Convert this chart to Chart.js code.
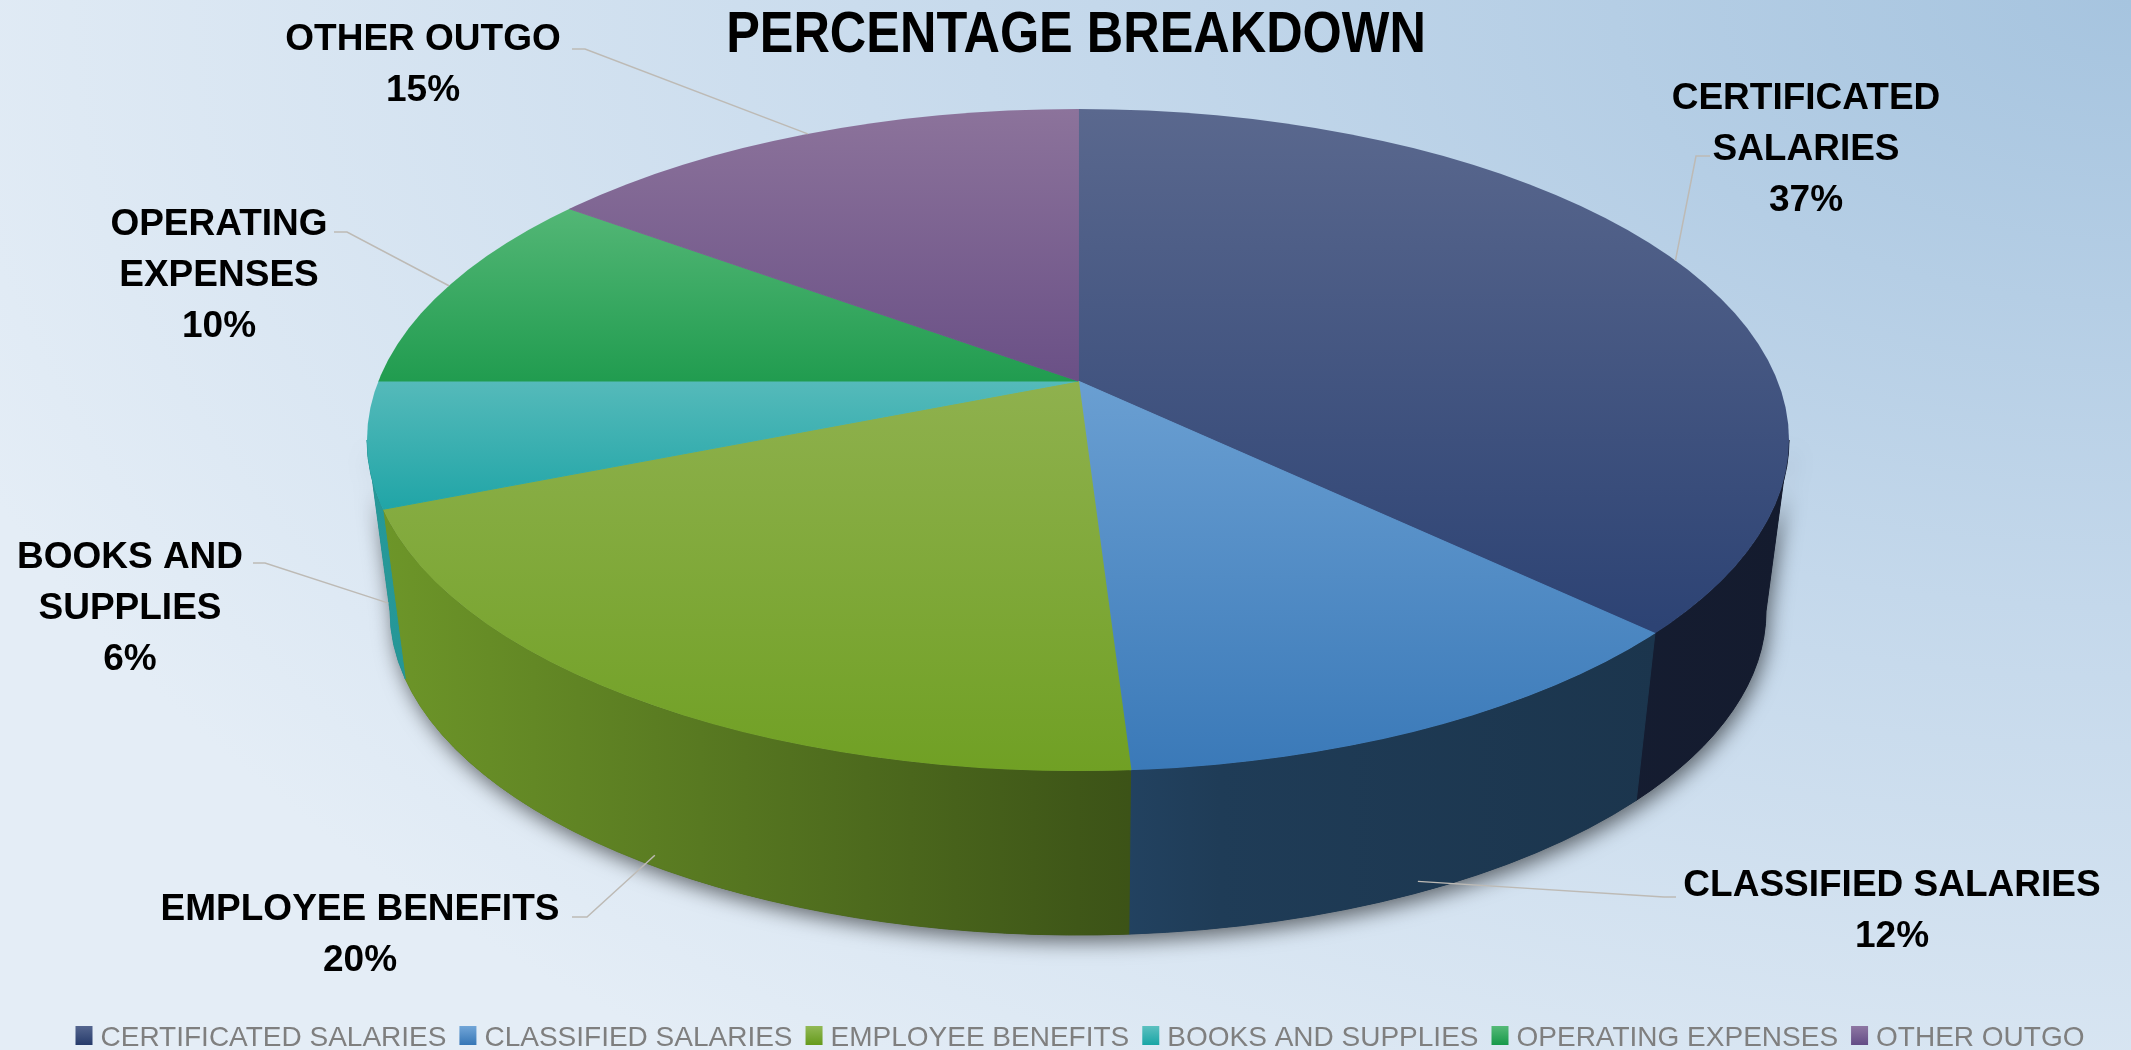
<!DOCTYPE html>
<html>
<head>
<meta charset="utf-8">
<script src="https://cdn.jsdelivr.net/npm/chart.js@4.4.1/dist/chart.umd.min.js"></script>
<style>
html,body{margin:0;padding:0;width:2131px;height:1050px;overflow:hidden;
background:radial-gradient(2300px 1350px at 100% 0%, #a6c4df 0%, #c4d8eb 45%, #e4edf6 100%);}
canvas{display:block}
</style>
</head>
<body>
<canvas id="c" width="2131" height="1050"></canvas>
<script>
// ---------- data ----------
const chartTitle = "PERCENTAGE BREAKDOWN";
const categories = ["CERTIFICATED SALARIES","CLASSIFIED SALARIES","EMPLOYEE BENEFITS","BOOKS AND SUPPLIES","OPERATING EXPENSES","OTHER OUTGO"];
const percentages = [37, 12, 20, 6, 10, 15];
const labelLines = [["CERTIFICATED","SALARIES"],["CLASSIFIED SALARIES"],["EMPLOYEE BENEFITS"],["BOOKS AND","SUPPLIES"],["OPERATING","EXPENSES"],["OTHER OUTGO"]];

// ---------- styles / layout ----------
const sideBase = ["#34487a","#4585c2","#7aa82e","#2aabab","#27a555","#735a8e"];
const topShade = [
  {y0:109, c0:"#5a688e", y1:625, c1:"#2d4374"},
  {y0:381, c0:"#6a9fd2", y1:771, c1:"#3a79b8"},
  {y0:381, c0:"#8fb14e", y1:771, c1:"#70a024"},
  {y0:381, c0:"#55baba", y1:514, c1:"#1ea4a6"},
  {y0:213, c0:"#52b675", y1:387, c1:"#1f9b4e"},
  {y0:109, c0:"#8c739b", y1:381, c1:"#6a5086"}
];
const legendShade = [["#55668f","#263b6b"],["#72a6d8","#3676b6"],["#92b956","#659a1c"],["#5cc0c0","#19a5a5"],["#55ba78","#17994a"],["#8e77a3","#634c86"]];
const APEX = {x:1078, y:381};
const TOP = {x:1078, y:440, rx:711, ry:331};
const BOT = {x:1078, y:611, rx:688, ry:324};
const WEDGE = {rx:1000, ry:466};
const labelLayout = [
  {x:1806, y:109, elbow:[[1710,156],[1696,156]]},
  {x:1892, y:896, elbow:[[1676,897],[1664,897]]},
  {x:360,  y:920, elbow:[[572,917],[587,917]]},
  {x:130,  y:568, elbow:[[253,563],[265,563]]},
  {x:219,  y:235, elbow:[[334,232],[347,232]]},
  {x:423,  y:50,  elbow:[[572,49],[585,49]]}
];
const LINE_H = 51;

function shade(hex, f){
  const n = parseInt(hex.slice(1),16);
  const r = Math.round(((n>>16)&255)*f), g = Math.round(((n>>8)&255)*f), b = Math.round((n&255)*f);
  return `rgb(${r},${g},${b})`;
}

function topFill(c){
  const chart = c.chart, ca = chart.chartArea, i = c.dataIndex;
  if(!ca || i === undefined) return sideBase[0];
  const cy = (ca.top+ca.bottom)/2;
  const r = Math.min(ca.right-ca.left, ca.bottom-ca.top)/2;
  const sy = WEDGE.ry / r;
  const s = topShade[i];
  const g = chart.ctx.createLinearGradient(0, cy+(s.y0-APEX.y)/sy, 0, cy+(s.y1-APEX.y)/sy);
  g.addColorStop(0, s.c0); g.addColorStop(1, s.c1);
  return g;
}

// ray from apex (in wedge-space angle) to the rim of the top ellipse
function rim(alpha){
  const dx = Math.cos(alpha)*WEDGE.rx, dy = Math.sin(alpha)*WEDGE.ry;
  const ox = APEX.x-TOP.x, oy = APEX.y-TOP.y;
  const rx2 = TOP.rx*TOP.rx, ry2 = TOP.ry*TOP.ry;
  const a = dx*dx/rx2 + dy*dy/ry2;
  const b = 2*(ox*dx/rx2 + oy*dy/ry2);
  const c = ox*ox/rx2 + oy*oy/ry2 - 1;
  const t = (-b + Math.sqrt(b*b-4*a*c))/(2*a);
  const x = APEX.x + t*dx, y = APEX.y + t*dy;
  return {x, y, beta: Math.atan2((y-TOP.y)/TOP.ry, (x-TOP.x)/TOP.rx)};
}
function normA(a){ while(a < -Math.PI) a += 2*Math.PI; while(a >= Math.PI) a -= 2*Math.PI; return a; }

const pie3d = {
  id:'pie3d',
  beforeDatasetsDraw(chart){
    const ctx = chart.ctx;
    const arcs = chart.getDatasetMeta(0).data;
    // soft shadow under the side band
    ctx.save();
    ctx.shadowColor = 'rgba(0,0,0,0.55)';
    ctx.shadowBlur = 20; ctx.shadowOffsetX = 3; ctx.shadowOffsetY = 7;
    ctx.fillStyle = '#1c2230';
    ctx.beginPath();
    ctx.ellipse(TOP.x, TOP.y, TOP.rx, TOP.ry, 0, 0, Math.PI, false);
    ctx.ellipse(BOT.x, BOT.y, BOT.rx, BOT.ry, 0, Math.PI, 0, true);
    ctx.closePath(); ctx.fill();
    ctx.restore();
    // side walls
    arcs.forEach((arc, i) => {
      const s = rim(arc.startAngle), e = rim(arc.endAngle);
      const b0 = normA(s.beta);
      const span = (((e.beta - s.beta) % (2*Math.PI)) + 2*Math.PI) % (2*Math.PI);
      const b1 = b0 + span;
      [[0, Math.PI],[2*Math.PI, 3*Math.PI]].forEach(([lo, hi]) => {
        const a = Math.max(b0, lo), b = Math.min(b1, hi);
        if (b > a) {
          const g = ctx.createLinearGradient(TOP.x-TOP.rx, 0, TOP.x+TOP.rx, 0);
          g.addColorStop(0, shade(sideBase[i], 0.9));
          g.addColorStop(0.5, shade(sideBase[i], 0.52));
          g.addColorStop(0.6, shade(sideBase[i], 0.45));
          g.addColorStop(1, shade(sideBase[i], 0.38));
          ctx.save();
          ctx.beginPath();
          ctx.ellipse(TOP.x, TOP.y, TOP.rx, TOP.ry, 0, a, b, false);
          ctx.ellipse(BOT.x, BOT.y, BOT.rx, BOT.ry, 0, b, a, true);
          ctx.closePath();
          ctx.fillStyle = g; ctx.fill();
          ctx.strokeStyle = g; ctx.lineWidth = 1; ctx.stroke();
          ctx.restore();
        }
      });
    });
    // top surface: clip to ellipse and map the library's pie onto it
    const a0 = arcs[0];
    const sx = WEDGE.rx / a0.outerRadius, sy = WEDGE.ry / a0.outerRadius;
    ctx.save();
    ctx.beginPath();
    ctx.ellipse(TOP.x, TOP.y, TOP.rx, TOP.ry, 0, 0, 2*Math.PI);
    ctx.clip();
    ctx.translate(APEX.x, APEX.y);
    ctx.scale(sx, sy);
    ctx.translate(-a0.x, -a0.y);
  },
  afterDatasetsDraw(chart){
    chart.ctx.restore();
  },
  afterDraw(chart){
    const ctx = chart.ctx;
    const arcs = chart.getDatasetMeta(0).data;
    const total = percentages.reduce((p, v) => p + v, 0);
    // leader lines + labels
    arcs.forEach((arc, i) => {
      const mid = (arc.startAngle + arc.endAngle)/2;
      const p = rim(mid);
      let ax = p.x, ay = p.y;
      if (Math.sin(p.beta) > 0) {
        const bx = BOT.x + BOT.rx*Math.cos(p.beta), by = BOT.y + BOT.ry*Math.sin(p.beta);
        ax = p.x + (bx - p.x)*0.93; ay = p.y + (by - p.y)*0.93;
      }
      const L = labelLayout[i];
      ctx.save();
      ctx.strokeStyle = '#bdbab5'; ctx.lineWidth = 1.5;
      ctx.beginPath();
      ctx.moveTo(L.elbow[0][0], L.elbow[0][1]);
      ctx.lineTo(L.elbow[1][0], L.elbow[1][1]);
      ctx.lineTo(ax, ay);
      ctx.stroke();
      ctx.fillStyle = '#000';
      ctx.font = 'bold 37px "Liberation Sans", Arial, sans-serif';
      ctx.textAlign = 'center'; ctx.textBaseline = 'alphabetic';
      const lines = labelLines[i].concat([Math.round(percentages[i]/total*100) + '%']);
      lines.forEach((t, k) => ctx.fillText(t, L.x, L.y + k*LINE_H));
      ctx.restore();
    });
    // title
    ctx.save();
    ctx.fillStyle = '#000';
    ctx.font = 'bold 57px "Liberation Sans", Arial, sans-serif';
    ctx.textAlign = 'center'; ctx.textBaseline = 'alphabetic';
    ctx.translate(1076, 52); ctx.scale(0.885, 1);
    ctx.fillText(chartTitle, 0, 0);
    ctx.restore();
    // legend
    ctx.save();
    ctx.font = '28px "Liberation Sans", Arial, sans-serif';
    ctx.textBaseline = 'alphabetic'; ctx.textAlign = 'left';
    const boxW = 17, boxH = 19, gap = 8, itemGap = 13;
    const widths = categories.map(t => ctx.measureText(t).width);
    const totalW = widths.reduce((p, w) => p + boxW + gap + w, 0) + itemGap*(categories.length-1);
    let x = 1080 - totalW/2;
    categories.forEach((t, i) => {
      const g = ctx.createLinearGradient(0, 1026, 0, 1026+boxH);
      g.addColorStop(0, legendShade[i][0]); g.addColorStop(1, legendShade[i][1]);
      ctx.fillStyle = g;
      ctx.fillRect(x, 1026, boxW, boxH);
      x += boxW + gap;
      ctx.fillStyle = '#7f7f7f';
      ctx.fillText(t, x, 1046);
      x += widths[i] + itemGap;
    });
    ctx.restore();
  }
};

new Chart(document.getElementById('c'), {
  type: 'pie',
  data: {
    labels: categories,
    datasets: [{
      data: percentages,
      backgroundColor: topFill,
      borderColor: topFill,
      borderWidth: 1
    }]
  },
  options: {
    responsive: false,
    animation: false,
    events: [],
    layout: {padding: 0},
    plugins: {legend: {display: false}, tooltip: {enabled: false}, title: {display: false}}
  },
  plugins: [pie3d]
});
</script>
</body>
</html>
